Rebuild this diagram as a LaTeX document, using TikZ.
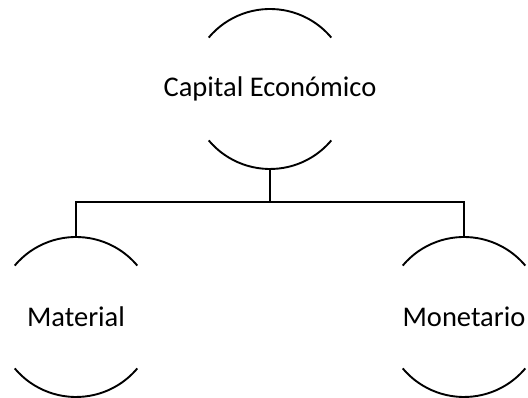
\documentclass[tikz,border=0pt]{standalone}
\usepackage{fontspec}
\setmainfont{Carlito}
\usepackage{tikz}
\usetikzlibrary{positioning, calc}
\tikzset{
  ringtext/.style={font=\fontsize{28.5}{34}\selectfont, inner sep=0pt, align=center},
  halfarc/.style={draw=black, line width=1.9pt},
  conn/.style={draw=black, line width=1.9pt},
}
\newcommand{\ringr}{80}

\begin{document}
\begin{tikzpicture}[x=1pt, y=1pt]
        \useasboundingbox (0,0) rectangle (528,398);
        \node[ringtext] (cap) at (270,309) {Capital Económico};
        \node[ringtext] (mat) at (76,81) {Material};
        \node[ringtext] (mon) at (464,81) {Monetario};
        % open rings round each label
        \foreach \n in {cap,mat,mon} {
          \draw[halfarc] ($(\n.center)+(140:\ringr)$) arc[start angle=140, end angle=40, radius=\ringr];
          \draw[halfarc] ($(\n.center)+(220:\ringr)$) arc[start angle=220, end angle=320, radius=\ringr];
        }
        \coordinate (capbot) at ($(cap.center)+(0,-\ringr)$);
        \coordinate (mattop) at ($(mat.center)+(0,\ringr)$);
        \coordinate (montop) at ($(mon.center)+(0,\ringr)$);
        \coordinate[below=33pt of capbot] (bus);
        \draw[conn] (capbot) -- (bus);
        \draw[conn] (mattop) |- (bus) -| (montop);
      \end{tikzpicture}
\end{document}
